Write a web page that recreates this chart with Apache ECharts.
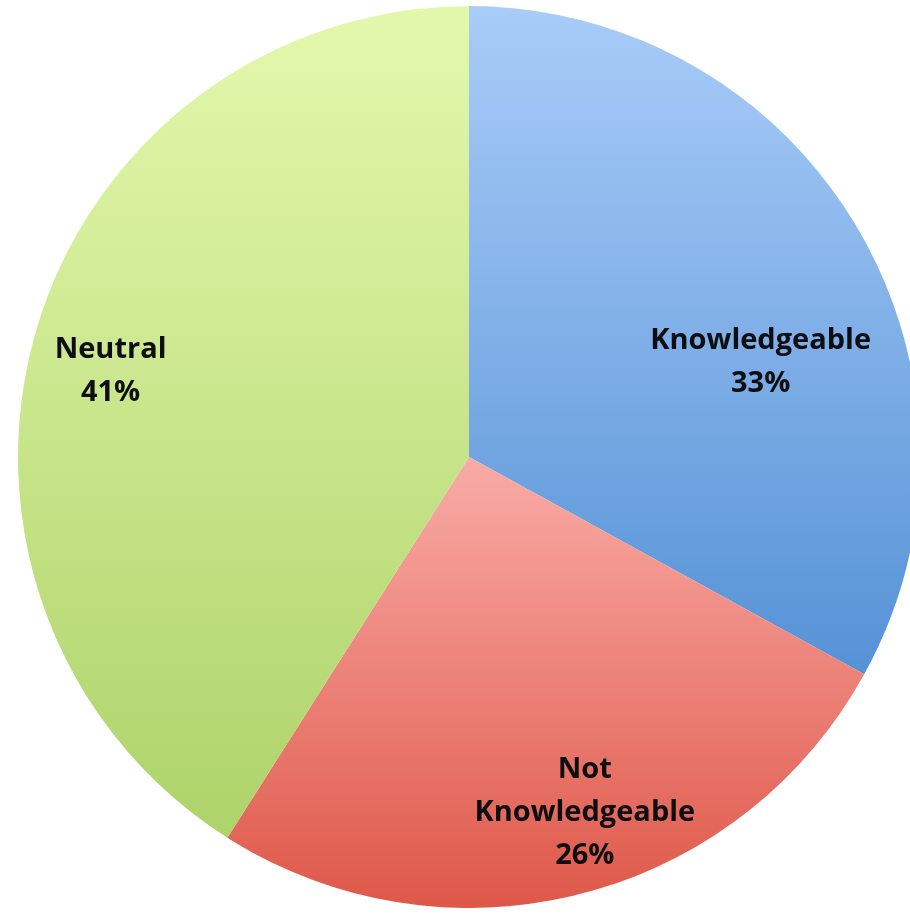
<!DOCTYPE html>
<html>
<head>
<meta charset="utf-8">
<script src="https://cdn.jsdelivr.net/npm/echarts@6/dist/echarts.min.js"></script>
<style>
    html, body { margin: 0; padding: 0; background: #fff; }
    #pie { width: 910px; height: 916px; }
</style>
</head>
<body>
<div id="pie"></div>
<script>
//数据
var names = ["Knowledgeable", "Not\nKnowledgeable", "Neutral"];
var values = [33, 26, 41];
var topColors = ["#a9ccf8", "#f9aba6", "#e4f8ad"];
var bottomColors = ["#5592d6", "#de5849", "#aed36a"];

//初始化图表实例
var pie = echarts.init(document.getElementById("pie"));

//标签相对默认位置的偏移
var labelShift = [[95, 22], [59, 134], [-139, -22]];

var seriesData = [];
for (var i = 0; i < names.length; i++) {
    seriesData.push({
        name: names[i],
        value: values[i],
        itemStyle: {
            color: new echarts.graphic.LinearGradient(0, 0, 0, 1, [
                { offset: 0, color: topColors[i] },
                { offset: 1, color: bottomColors[i] }
            ])
        }
    });
}

var option = {
    backgroundColor: "#ffffff",
    animation: false,
    series: [
        {
            type: "pie",
            center: [469, 457],
            radius: [0, 451],
            startAngle: 90,
            clockwise: true,
            data: seriesData,
            itemStyle: {
                borderWidth: 0
            },
            label: {
                show: true,
                position: "inside",
                formatter: "{b}\n{c}%",
                color: "#0d0d12",
                fontFamily: "Open Sans",
                fontWeight: "bold",
                fontSize: 29,
                lineHeight: 43,
                align: "center"
            },
            labelLine: { show: false },
            labelLayout: function(params) {
                var s = labelShift[params.dataIndex];
                return { dx: s[0], dy: s[1] };
            }
        }
    ]
};

pie.setOption(option);
</script>
</body>
</html>
